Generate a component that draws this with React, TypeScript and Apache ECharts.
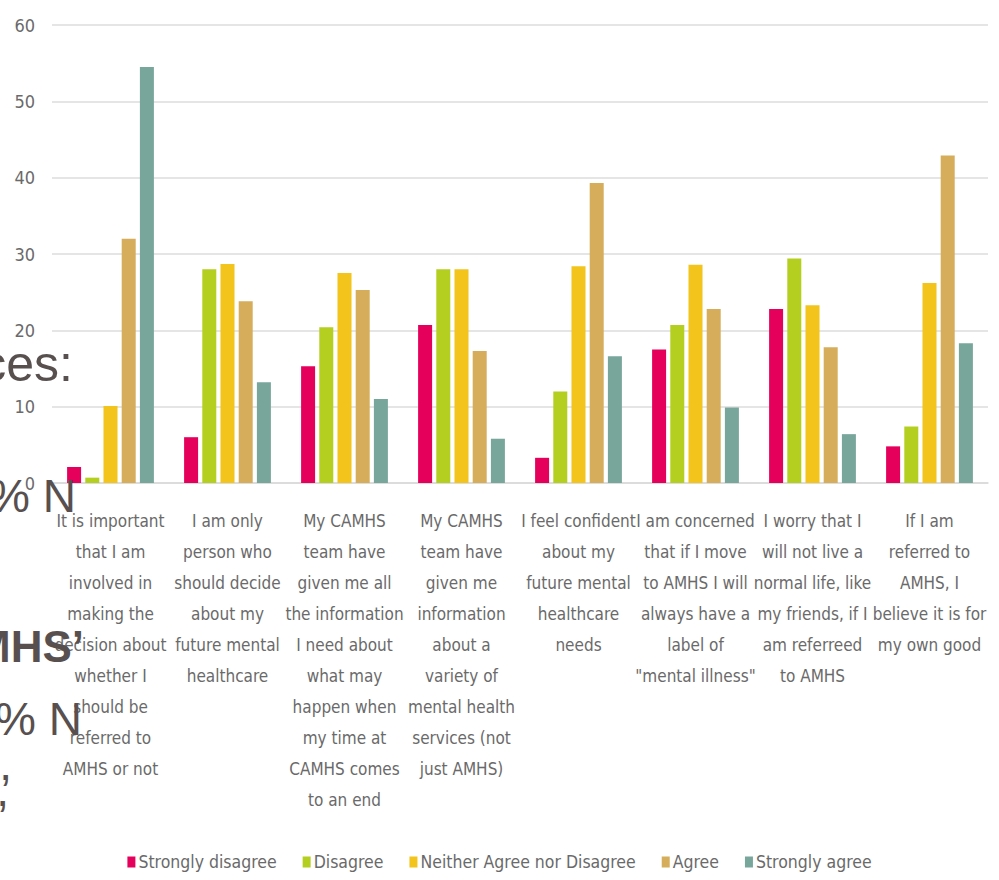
import React, { useEffect, useRef } from "react";
import * as echarts from "echarts";

const categories: string[] = [
  "It is important\nthat I am\ninvolved in\nmaking the\ndecision about\nwhether I\nshould be\nreferred to\nAMHS or not",
  "I am only\nperson who\nshould decide\nabout my\nfuture mental\nhealthcare",
  "My CAMHS\nteam have\ngiven me all\nthe information\nI need about\nwhat may\nhappen when\nmy time at\nCAMHS comes\nto an end",
  "My CAMHS\nteam have\ngiven me\ninformation\nabout a\nvariety of\nmental health\nservices (not\njust AMHS)",
  "I feel confident\nabout my\nfuture mental\nhealthcare\nneeds",
  "I am concerned\nthat if I move\nto AMHS I will\nalways have a\nlabel of\n\"mental illness\"",
  "I worry that I\nwill not live a\nnormal life, like\nmy friends, if I\nam referreed\nto AMHS",
  "If I am\nreferred to\nAMHS, I\nbelieve it is for\nmy own good",
];

const seriesNames: string[] = [
  "Strongly disagree",
  "Disagree",
  "Neither Agree nor Disagree",
  "Agree",
  "Strongly agree",
];

const stronglyDisagree: number[] = [2.1, 6.0, 15.3, 20.7, 3.3, 17.5, 22.8, 4.8];
const disagree: number[] = [0.7, 28.0, 20.4, 28.0, 12.0, 20.7, 29.4, 7.4];
const neither: number[] = [10.1, 28.7, 27.5, 28.0, 28.4, 28.6, 23.3, 26.2];
const agree: number[] = [32.0, 23.8, 25.3, 17.3, 39.3, 22.8, 17.8, 42.9];
const stronglyAgree: number[] = [54.5, 13.2, 11.0, 5.8, 16.6, 9.9, 6.4, 18.3];

const yTicks = { min: 0, max: 60, interval: 10 };

const overlayTexts: string[] = ["ces:", "% N", "MHS\u2019", "% N", ",", ","];

const colors = ["#e4005b", "#b4cf1f", "#f2c41c", "#d5ad5b", "#78a69b"];

const labelFont = "'Liberation Sans Narrow', 'DejaVu Sans Condensed', 'Roboto', sans-serif";
const overlayFont = "'Liberation Sans', Arial, sans-serif";

export default function App() {
  const ref = useRef<HTMLDivElement>(null);

  useEffect(() => {
    if (!ref.current) return;
    const chart = echarts.init(ref.current, undefined, { renderer: "svg" });
    const values = [stronglyDisagree, disagree, neither, agree, stronglyAgree];

    const overlayPos = [
      { x: 73, y: 364, size: 50, bold: false },
      { x: 76, y: 496, size: 46, bold: false },
      { x: 84, y: 646, size: 44, bold: true },
      { x: 82, y: 719, size: 46, bold: false },
      { x: 12, y: 764, size: 46, bold: false },
      { x: 9, y: 790, size: 46, bold: false },
    ];

    chart.setOption({
      animation: false,
      color: colors,
      grid: { left: 52, right: 11, top: 25, bottom: 397, containLabel: false },
      legend: {
        data: seriesNames,
        left: "center",
        top: 848,
        icon: "rect",
        itemWidth: 8,
        itemHeight: 11,
        itemGap: 26,
        textStyle: { color: "#6a6a6a", fontSize: 17.5, fontFamily: labelFont, padding: [0, 0, 0, -2] },
      },
      xAxis: {
        type: "category",
        data: categories,
        axisTick: { show: false },
        axisLine: { lineStyle: { color: "#d9d9d9", width: 1.5 } },
        axisLabel: {
          interval: 0,
          color: "#6a6a6a",
          fontSize: 17,
          lineHeight: 31,
          margin: 22,
          fontFamily: labelFont,
          align: "center",
        },
      },
      yAxis: {
        type: "value",
        min: yTicks.min,
        max: yTicks.max,
        interval: yTicks.interval,
        axisLine: { show: false },
        axisTick: { show: false },
        splitLine: { lineStyle: { color: "#dcdcdc", width: 1.5 } },
        axisLabel: { color: "#6a6a6a", fontSize: 18, margin: 17, fontFamily: labelFont },
      },
      series: seriesNames.map((name, i) => ({
        name,
        type: "bar",
        data: values[i],
        barWidth: 14,
        barGap: "30%",
        itemStyle: { color: colors[i] },
      })),
      graphic: overlayTexts.map((t, i) => ({
        type: "text",
        z: 100,
        x: overlayPos[i].x,
        y: overlayPos[i].y,
        style: {
          text: t,
          fill: "#57504f",
          font: `${overlayPos[i].bold ? "bold " : ""}${overlayPos[i].size}px ${overlayFont}`,
          textAlign: "right",
          textVerticalAlign: "middle",
        },
      })),
    });

    return () => chart.dispose();
  }, []);

  return (
    <div
      ref={ref}
      style={{ position: "fixed", left: 0, top: 0, width: 999, height: 880, background: "#ffffff" }}
    />
  );
}
